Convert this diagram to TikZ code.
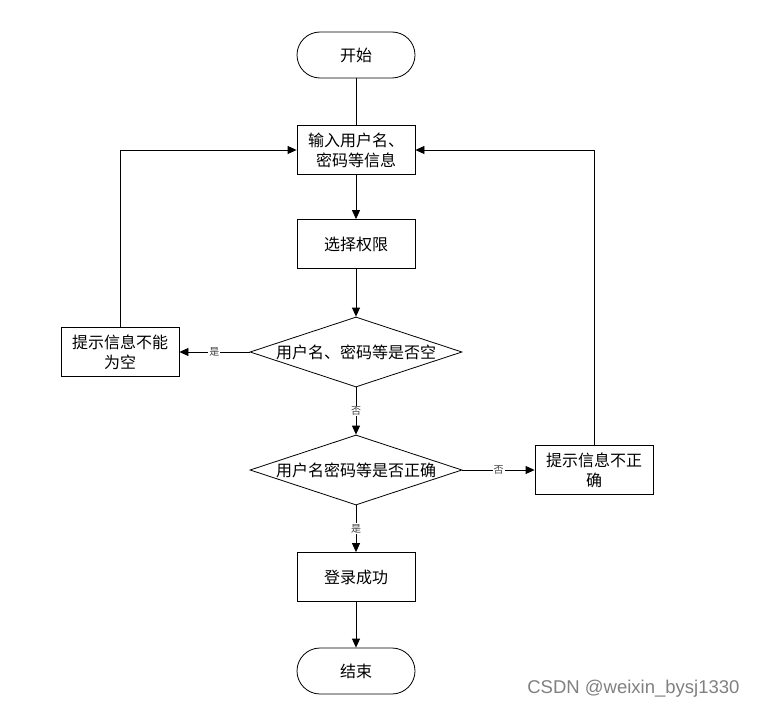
\documentclass[tikz,border=0pt]{standalone}
\usepackage{fontspec}
\newfontfamily\cjk{Noto Sans CJK SC}
\newfontfamily\wm{Liberation Sans}
\usetikzlibrary{arrows.meta,shapes.geometric}
\begin{document}
\begin{tikzpicture}[x=1pt,y=-1pt,
  base/.style={draw=black, line width=0.8pt, font=\cjk\fontsize{16}{20}\selectfont, inner sep=0pt, align=center},
  box/.style={base, rectangle, minimum width=118pt, minimum height=49pt},
  term/.style={base, rounded corners=23pt, minimum width=118pt, minimum height=46pt},
  dia/.style={base, diamond, aspect=3.03, minimum width=212pt, minimum height=70pt},
  flow/.style={line width=0.8pt, -{Triangle[length=9pt,width=8pt]}},
  lab/.style={fill=white, inner sep=1pt, font=\cjk\fontsize{10}{11}\selectfont, text=black!75}
]
\useasboundingbox (0,0) rectangle (758,709);
\node[term] (start) at (356,55) {开始};
\node[box] (input) at (356,150) {输入用户名、\\密码等信息};
\node[box] (sel) at (356,244) {选择权限};
\node[dia] (d1) at (356,352) {用户名、密码等是否空};
\node[box] (empty) at (120,352) {提示信息不能\\为空};
\node[dia] (d2) at (356,470) {用户名密码等是否正确};
\node[box] (wrong) at (594,470) {提示信息不正\\确};
\node[box] (ok) at (356,577) {登录成功};
\node[term] (end) at (356,671) {结束};
\node[font=\wm\fontsize{18.5}{22}\selectfont, text=black!50, anchor=east] (wmk) at (743,689) {CSDN @weixin\_bysj1330};

\draw[line width=0.8pt] (start) -- (input);
\draw[flow] (input) -- (sel);
\draw[flow] (sel) -- (d1);
\draw[flow] (d1) -- node[lab] {是} (empty);
\draw[flow] (empty.north) |- (input.west);
\draw[flow] (d1) -- node[lab] {否} (d2);
\draw[flow] (d2) -- node[lab] {否} (wrong);
\draw[flow] (wrong.north) |- (input.east);
\draw[flow] (d2) -- node[lab] {是} (ok);
\draw[flow] (ok) -- (end);
\end{tikzpicture}
\end{document}
